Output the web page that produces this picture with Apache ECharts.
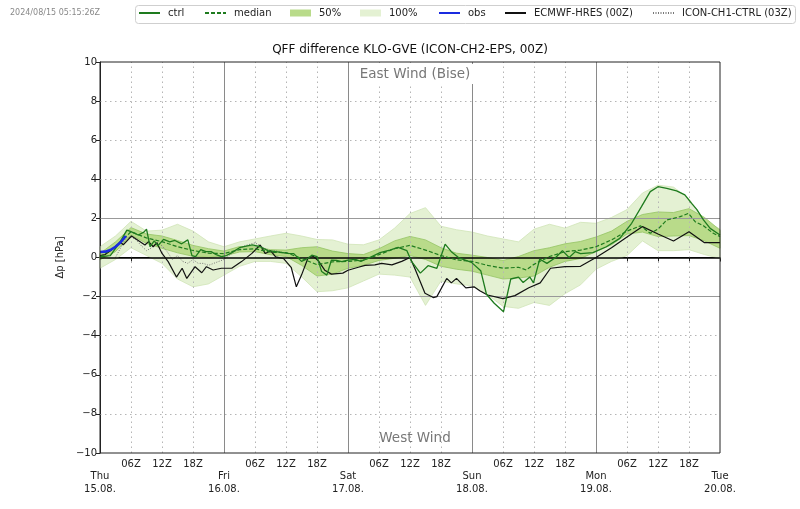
<!DOCTYPE html>
<html><head><meta charset="utf-8">
<script src="https://cdn.jsdelivr.net/npm/echarts@6/dist/echarts.min.js"></script>
<style>html,body{margin:0;padding:0;background:#fff}#c{width:800px;height:509px}</style>
</head><body><div id="c"></div>
<script>
// ---- data (hours after Thu 15.08. 00Z) ----
const bandHours = [0,3,6,9,12,15,18,21,24,27,30,33,36,39,42,45,48,51,54,57,60,63,66,69,72,75,78,81,84,87,90,93,96,99,102,105,108,111,114,117,120];
const p100Upper = [0.55,1.1,1.85,1.35,1.4,1.7,1.35,0.8,0.55,0.8,0.95,1.1,1.24,1.1,0.92,0.9,0.68,0.65,0.9,1.5,2.25,2.55,1.6,1.42,1.3,1.1,0.95,0.8,1.45,1.7,1.5,1.8,1.75,2.05,2.45,3.3,3.7,3.6,3.0,1.9,1.45];
const p100Lower = [-0.55,-0.1,0.5,0.1,-0.3,-1.1,-1.5,-1.35,-0.9,-0.45,-0.2,-0.2,-0.3,-0.98,-1.75,-1.7,-1.55,-1.2,-0.85,-0.9,-1.0,-2.45,-1.2,-1.35,-1.45,-1.9,-2.5,-2.6,-2.3,-2.45,-1.85,-1.4,-0.6,-0.2,0.1,0.85,0.35,0.35,0.4,0.15,-0.05];
const p50Upper = [0.21,0.8,1.53,1.2,1.1,0.87,0.62,0.45,0.33,0.56,0.55,0.4,0.38,0.5,0.55,0.33,0.2,0.15,0.45,0.85,1.08,0.9,0.5,0.22,0.12,0.0,-0.15,0.05,0.35,0.5,0.7,0.82,1.05,1.35,1.85,2.2,2.33,2.3,2.5,2.05,1.4];
const p50Lower = [-0.12,0.3,1.15,0.72,0.47,0.24,0.06,0.0,0.08,0.28,0.3,0.14,0.05,-0.4,-0.95,-0.85,-0.55,-0.4,-0.15,-0.04,0.1,-0.1,-0.45,-0.6,-0.7,-0.9,-1.1,-1.05,-0.95,-0.5,-0.2,-0.05,0.3,0.65,1.2,1.3,1.07,1.1,1.12,0.85,0.47];

const medianHours = [0,3,6,9,12,15,18,21,24,27,30,33,36,39,42,45,48,51,54,57,60,63,66,69,72,75,78,81,82.5,84,87,90,93,96,99,102,104.6,106.5,108,109.7,111,112.3,113.9,115.2,116.8,118.7,120];
const medianValues = [0.03,0.55,1.32,1.0,0.81,0.55,0.36,0.22,0.2,0.4,0.45,0.27,0.25,-0.05,-0.37,-0.22,-0.2,-0.13,0.15,0.45,0.62,0.38,0.1,-0.12,-0.2,-0.4,-0.55,-0.5,-0.64,-0.35,0.05,0.3,0.38,0.55,0.9,1.35,1.62,1.24,1.45,1.92,2.0,2.09,2.26,1.83,1.62,1.24,1.07];

const ctrlHours = [0,2,3.9,5.2,6,7.4,8.5,9,9.7,10.5,11.2,12.3,13.5,14.5,15.8,17,17.8,18.5,19.5,20.5,21.5,22.5,23.5,24.5,25.5,27,28.5,29.5,31,32.5,34,36.4,37.5,39,40.3,41,42,42.9,43.9,44.8,45.8,46.8,48,49.4,50.5,52.2,54.2,56.1,57.7,59.4,60.3,62,63.5,65.2,66.8,68,69.5,71.9,73.7,74.8,76.3,78.1,79.5,81,81.9,83.2,83.9,85.1,86.5,88.2,89.5,90.8,92,93,95.4,98,100.6,102.9,104.8,106.5,108,109.7,111.6,113.2,114.5,115.5,116.8,118.1,120];
const ctrlValues = [0.03,0.1,0.8,1.4,1.32,1.15,1.3,1.45,0.55,0.85,0.6,0.93,0.8,0.87,0.7,0.9,0.1,0.05,0.4,0.3,0.3,0.15,0.05,0.1,0.25,0.5,0.6,0.65,0.55,0.35,0.3,0.21,0.2,-0.2,-0.04,0.12,0.05,-0.72,-0.9,-0.13,-0.15,-0.21,-0.13,-0.1,-0.2,0.0,0.25,0.38,0.52,0.35,-0.2,-0.8,-0.42,-0.55,0.68,0.3,-0.02,-0.25,-0.68,-1.88,-2.34,-2.77,-1.1,-1.0,-1.28,-1.0,-1.3,-0.08,-0.3,0.0,0.35,0.0,0.3,0.2,0.25,0.55,0.98,1.75,2.6,3.37,3.62,3.54,3.41,3.2,2.77,2.46,1.92,1.49,1.15];

const hresHours = [0,1,2,3,3.9,4.5,6.1,8.7,9.4,10.3,11,12,13.2,14.8,15.9,16.8,18.4,19.7,20.6,21.9,23.5,25.5,27.4,29.4,31,32,33,34,35.5,37,38,39,40.3,41.3,42.2,43.5,44.8,47,48,50,51.3,53.2,54.5,56.5,58.4,60,61,62.9,64.5,65.2,67.1,68,69,70.8,72.4,73.5,75,78,80.3,83,85.2,87.2,90,93,96,99,102,105,108,111,114,117,120];
const hresValues = [0.1,0.15,0.35,0.55,0.8,0.65,1.1,0.64,0.81,0.55,0.75,0.21,-0.21,-1.0,-0.55,-1.07,-0.47,-0.78,-0.47,-0.64,-0.55,-0.55,-0.21,0.21,0.64,0.2,0.35,0.03,-0.05,-0.5,-1.5,-0.9,0.0,0.05,-0.15,-0.65,-0.85,-0.8,-0.65,-0.5,-0.4,-0.38,-0.3,-0.38,-0.2,0.0,-0.6,-1.83,-2.05,-2.0,-1.07,-1.3,-1.07,-1.55,-1.5,-1.7,-1.92,-2.1,-1.95,-1.55,-1.3,-0.55,-0.47,-0.45,0.0,0.5,1.05,1.58,1.2,0.84,1.32,0.76,0.76];

const iconHours = [3,4,5,6,7,8,9,10,11,12,13,14,15,16,17,18,19,20,21,22,24,26,28,30,31,32,33,34,36];
const iconValues = [0.0,0.5,1.0,1.05,0.9,0.6,0.35,0.5,0.8,0.6,0.3,-0.1,0.1,-0.2,-0.3,-0.1,-0.3,-0.3,-0.4,-0.3,-0.1,0.3,0.6,0.75,0.6,0.45,0.3,0.35,0.2];

const obsHours = [0,1,2,3,4,5];
const obsValues = [0.28,0.3,0.38,0.55,0.78,1.1];

const dayNames = ['Thu','Fri','Sat','Sun','Mon','Tue'];
const dayDates = ['15.08.','16.08.','17.08.','18.08.','19.08.','20.08.'];
const yTickValues = [-10,-8,-6,-4,-2,0,2,4,6,8,10];

// ---- build ----
const FONT = 'DejaVu Sans';
const pairs = (xs, ys) => xs.map((x, i) => [x, ys[i]]);

const C_LIGHT = '#e4f1d3', C_LIGHT_EDGE = '#d0e5b8';
const C_MID = '#b9db8a', C_MID_EDGE = '#94c463';
const C_GREEN = '#1e7b1e';

const gridLines = [];
yTickValues.forEach(v => {
  if (v === 0 || v === 10 || v === -10) return;
  if (Math.abs(v) === 2) gridLines.push({yAxis: v, lineStyle: {color: '#999', width: 1, type: 'solid'}});
  else gridLines.push({yAxis: v, lineStyle: {color: '#b5b5b5', width: 1, type: [1.5, 3.5]}});
});
for (let h = 6; h < 120; h += 6) {
  if (h % 24 === 0) gridLines.push({xAxis: h, lineStyle: {color: '#8a8a8a', width: 1, type: 'solid'}});
  else gridLines.push({xAxis: h, lineStyle: {color: '#b5b5b5', width: 1, type: [1.5, 3.5]}});
}
gridLines.push({yAxis: 0, lineStyle: {color: '#000', width: 1.5, type: 'solid'}});

function bandSeries(name, lower, upper, fill, edge, z) {
  return {
    type: 'custom', name: name, z: z, silent: true, animation: false,
    color: fill, itemStyle: {color: fill},
    data: bandHours.map((h, i) => [h, lower[i], upper[i]]),
    encode: {x: 0, y: [1, 2]},
    renderItem: function (params, api) {
      if (params.dataIndex !== 0) return null;
      const top = bandHours.map((h, i) => api.coord([h, upper[i]]));
      const bot = bandHours.map((h, i) => api.coord([h, lower[i]])).reverse();
      return {type: 'polygon', shape: {points: top.concat(bot)},
        style: {fill: fill, stroke: edge, lineWidth: 0.8}};
    }
  };
}

const lineBase = {type: 'line', symbol: 'none', showSymbol: false, animation: false, silent: true};

const series = [
  bandSeries('100%', p100Lower, p100Upper, C_LIGHT, C_LIGHT_EDGE, 1),
  bandSeries('50%', p50Lower, p50Upper, C_MID, C_MID_EDGE, 2),
  Object.assign({}, lineBase, {name: 'gridlines', z: 3, data: [],
    markLine: {silent: true, symbol: ['none', 'none'], label: {show: false}, animation: false, data: gridLines}}),
  Object.assign({}, lineBase, {name: 'ICON-CH1-CTRL (03Z)', z: 4, data: pairs(iconHours, iconValues),
    color: '#777', lineStyle: {color: '#777', width: 1, type: [1, 1.5]}}),
  Object.assign({}, lineBase, {name: 'ECMWF-HRES (00Z)', z: 5, data: pairs(hresHours, hresValues),
    color: '#111', lineStyle: {color: '#111', width: 1.2}}),
  Object.assign({}, lineBase, {name: 'median', z: 6, data: pairs(medianHours, medianValues),
    color: C_GREEN, lineStyle: {color: C_GREEN, width: 1.2, type: [4, 2]}}),
  Object.assign({}, lineBase, {name: 'ctrl', z: 7, data: pairs(ctrlHours, ctrlValues),
    color: C_GREEN, lineStyle: {color: C_GREEN, width: 1.3}}),
  Object.assign({}, lineBase, {name: 'obs', z: 8, data: pairs(obsHours, obsValues),
    color: '#1a2be0', lineStyle: {color: '#1a2be0', width: 2.6}})
];

const legendItems = [
  {name: 'ctrl', left: 138},
  {name: 'median', left: 204},
  {name: '50%', left: 290, icon: 'rect'},
  {name: '100%', left: 360, icon: 'rect'},
  {name: 'obs', left: 438},
  {name: 'ECMWF-HRES (00Z)', left: 504},
  {name: 'ICON-CH1-CTRL (03Z)', left: 652}
];
const legends = legendItems.map(it => ({
  data: [it.icon ? {name: it.name, icon: it.icon} : {name: it.name}],
  left: it.left, top: 8, padding: 0, itemGap: 0, itemWidth: 21, itemHeight: 7,
  selectedMode: false, z: 10,
  itemStyle: it.icon ? {} : {opacity: 0, borderWidth: 0},
  textStyle: {fontFamily: FONT, fontSize: 10, color: '#222', padding: [0, 0, 0, 3]}
}));

const chart = echarts.init(document.getElementById('c'), null, {renderer: 'canvas'});
chart.setOption({
  animation: false,
  backgroundColor: '#fff',
  textStyle: {fontFamily: FONT},
  grid: {left: 100, right: 80, top: 62, bottom: 56, show: true, borderColor: '#222', borderWidth: 1, z: 9, backgroundColor: 'transparent'},
  legend: legends,
  xAxis: {
    type: 'value', min: 0, max: 120, interval: 6,
    splitLine: {show: false},
    axisLine: {show: true, lineStyle: {color: '#222', width: 1}},
    axisTick: {show: true, length: 4, lineStyle: {color: '#222'}},
    axisLabel: {
      show: true, margin: 5, fontFamily: FONT, fontSize: 10, color: '#222', lineHeight: 12.5,
      showMinLabel: true, showMaxLabel: true,
      formatter: function (v) {
        const h = Math.round(v);
        if (h % 24 === 0) { const d = h / 24; return '\n' + dayNames[d] + '\n' + dayDates[d]; }
        const hh = h % 24; return (hh < 10 ? '0' : '') + hh + 'Z';
      }
    }
  },
  yAxis: {
    type: 'value', min: -10, max: 10, interval: 2,
    name: 'Δp [hPa]', nameLocation: 'middle', nameGap: 31, nameRotate: 90,
    nameTextStyle: {fontFamily: FONT, fontSize: 10, color: '#222'},
    splitLine: {show: false},
    axisLine: {show: true, lineStyle: {color: '#222', width: 1}},
    axisTick: {show: true, length: 4, lineStyle: {color: '#222'}},
    axisLabel: {margin: 3, fontFamily: FONT, fontSize: 10, color: '#222',
      formatter: v => (v < 0 ? '\u2212' + Math.abs(v) : String(v))}
  },
  graphic: [
    {type: 'rect', left: 135, top: 5, z: 5, silent: true,
      shape: {width: 660, height: 18, r: 3}, style: {fill: '#fff', stroke: '#cfcfcf', lineWidth: 1}},
    {type: 'text', x: 10, y: 13, z: 20, silent: true,
      style: {text: '2024/08/15 05:15:26Z', font: '8px "DejaVu Sans"', fill: '#888', verticalAlign: 'middle'}},
    {type: 'text', x: 410, y: 50, z: 20, silent: true,
      style: {text: 'QFF difference KLO-GVE (ICON-CH2-EPS, 00Z)', font: '12px "DejaVu Sans"', fill: '#111', align: 'center', verticalAlign: 'middle'}},
    {type: 'text', x: 415, y: 74, z: 20, silent: true,
      style: {text: 'East Wind (Bise)', font: '13.5px "DejaVu Sans"', fill: '#777', align: 'center', verticalAlign: 'middle',
        backgroundColor: '#fff', padding: [3, 5, 3, 5]}},
    {type: 'text', x: 415, y: 438, z: 20, silent: true,
      style: {text: 'West Wind', font: '13.5px "DejaVu Sans"', fill: '#777', align: 'center', verticalAlign: 'middle'}}
  ],
  series: series
});
</script></body></html>
